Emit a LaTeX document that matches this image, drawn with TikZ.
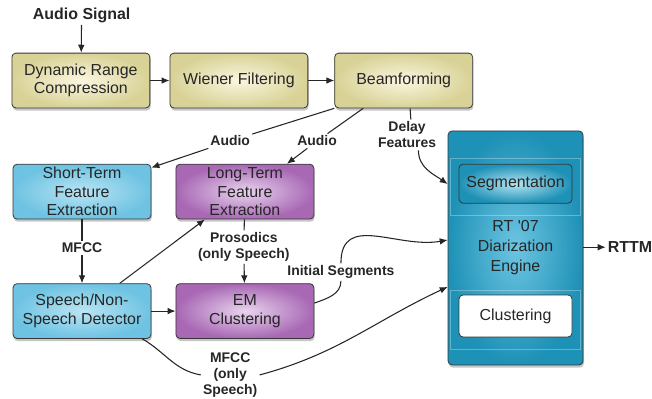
\documentclass[tikz,border=0pt]{standalone}
\usepackage{fontspec}
\setmainfont{Liberation Sans}
\usetikzlibrary{arrows.meta,positioning,calc,shadows}
\definecolor{yelout}{RGB}{216,210,150}
\definecolor{yelin}{RGB}{251,246,224}
\definecolor{bluout}{RGB}{110,195,226}
\definecolor{bluin}{RGB}{186,228,243}
\definecolor{purout}{RGB}{168,104,180}
\definecolor{purin}{RGB}{232,212,238}
\definecolor{engout}{RGB}{30,145,182}
\definecolor{engin}{RGB}{108,197,226}
\definecolor{segin}{RGB}{180,228,242}
\definecolor{edge}{RGB}{55,55,55}

\tikzset{
  box/.style={draw=edge, line width=0.6pt, rounded corners=3pt, align=center,
    minimum width=3.65cm, minimum height=1.45cm, inner sep=1pt,
    font=\fontsize{12}{14}\selectfont, text=black!85,
    drop shadow={shadow xshift=0.6pt, shadow yshift=-2pt, opacity=0.45}},
  prebox/.style={box, inner color=yelin, outer color=yelout},
  stbox/.style={box, inner color=bluin, outer color=bluout},
  ltbox/.style={box, inner color=purin, outer color=purout},
  inbox/.style={draw=edge, line width=0.6pt, rounded corners=3pt, align=center,
    minimum width=2.99cm, font=\fontsize{12}{14}\selectfont, text=black!85},
  lbl/.style={font=\fontsize{10.5}{12}\selectfont\bfseries, align=center,
    inner sep=1.5pt, text=black!85},
  conn/.style={line width=0.8pt, black!85},
  arr/.style={conn, -{Latex[length=6pt,width=5pt]}},
}

\begin{document}
\begin{tikzpicture}
  \useasboundingbox (0,0) rectangle (17.25,-10.53);

  % front end
  \node[lbl, font=\fontsize{12}{14}\selectfont\bfseries] (audiosig) at (2.16,-0.40) {Audio Signal};
  \node[prebox] (drc) at (2.14,-2.13) {Dynamic Range\\Compression};
  \node[prebox] (wiener) at (6.32,-2.13) {Wiener Filtering};
  \node[prebox] (beam) at (10.68,-2.13) {Beamforming};

  % feature extraction
  \node[stbox] (short) at (2.17,-5.07) {Short-Term\\Feature\\Extraction};
  \node[ltbox] (long) at (6.48,-5.07) {Long-Term\\Feature\\Extraction};
  \node[stbox] (speech) at (2.17,-8.23) {Speech/Non-\\Speech Detector};
  \node[ltbox] (em) at (6.48,-8.23) {EM\\Clustering};

  % diarization engine
  \node[box, inner color=engin, outer color=engout, minimum width=3.57cm,
    minimum height=6.19cm, font=\fontsize{12}{15}\selectfont]
    (engine) at (13.64,-6.56) {RT \textquotesingle07\\Diarization\\Engine};
  \draw[white, opacity=0.3, line width=0.5pt] (11.91,-4.18) rectangle (15.35,-5.69);
  \draw[white, opacity=0.3, line width=0.5pt] (11.91,-7.67) rectangle (15.35,-9.23);
  \node[inbox, inner color=segin, outer color=engout, minimum height=1.03cm]
    (seg) at (13.64,-4.86) {Segmentation};
  \node[inbox, fill=white, minimum height=1.11cm] (clus) at (13.64,-8.36) {Clustering};
  \node[lbl, font=\fontsize{12}{14}\selectfont\bfseries] (rttm) at (16.67,-6.54) {RTTM};

  \coordinate (inDelay) at ([yshift=1.69cm]engine.west);
  \coordinate (inSeg) at ([yshift=0.21cm]engine.west);
  \coordinate (inMfcc) at ([yshift=-1.03cm]engine.west);

  % labels
  \node[lbl] (audioA) at (6.09,-3.73) {Audio};
  \node[lbl] (audioB) at (8.39,-3.73) {Audio};
  \node[lbl] (delay) at (10.77,-3.57) {Delay\\Features};
  \node[lbl] (mfccA) at (2.17,-6.56) {MFCC};
  \node[lbl] (prosodic) at (6.45,-6.54) {Prosodics\\(only Speech)};
  \node[lbl] (initseg) at (9.02,-7.20) {Initial Segments};
  \node[lbl] (mfccB) at (6.09,-9.92) {MFCC\\(only\\Speech)};

  % connectors
  \draw[arr] (audiosig) -- (drc);
  \draw[arr] (drc) -- (wiener);
  \draw[arr] (wiener) -- (beam);

  \draw[conn] (beam.south west) -- (audioA);
  \draw[arr] (audioA) -- ([yshift=-0.1cm]short.north east);
  \draw[conn] ([xshift=-1.07cm]beam.south) -- (audioB);
  \draw[arr] (audioB) -- ([xshift=1.11cm]long.north);
  \draw[conn] ([xshift=0.17cm]beam.south) -- ([xshift=0.1cm]delay.north);
  \draw[arr] ([xshift=0.3cm]delay.south) to[out=-90,in=145] (inDelay);

  \draw[conn] (short) -- (mfccA);
  \draw[arr] (mfccA) -- (speech);
  \draw[conn] (long) -- (prosodic);
  \draw[arr] (prosodic) -- (em);
  \draw[arr] ([xshift=1.0cm]speech.north) -- ([xshift=-1.06cm]long.south);
  \draw[arr] (speech) -- (em);

  \draw[conn] ([yshift=0.21cm]em.east) to[out=20,in=-90] (initseg.south);
  \draw[arr] (initseg.north) to[out=90,in=190,looseness=1.2] (inSeg);
  \draw[conn] ([xshift=-0.24cm]speech.south east) to[out=-30,in=170] (mfccB.west);
  \draw[arr] (mfccB.east) to[out=15,in=205] (inMfcc);

  \draw[arr] (engine.east |- rttm) -- (rttm);
\end{tikzpicture}
\end{document}
